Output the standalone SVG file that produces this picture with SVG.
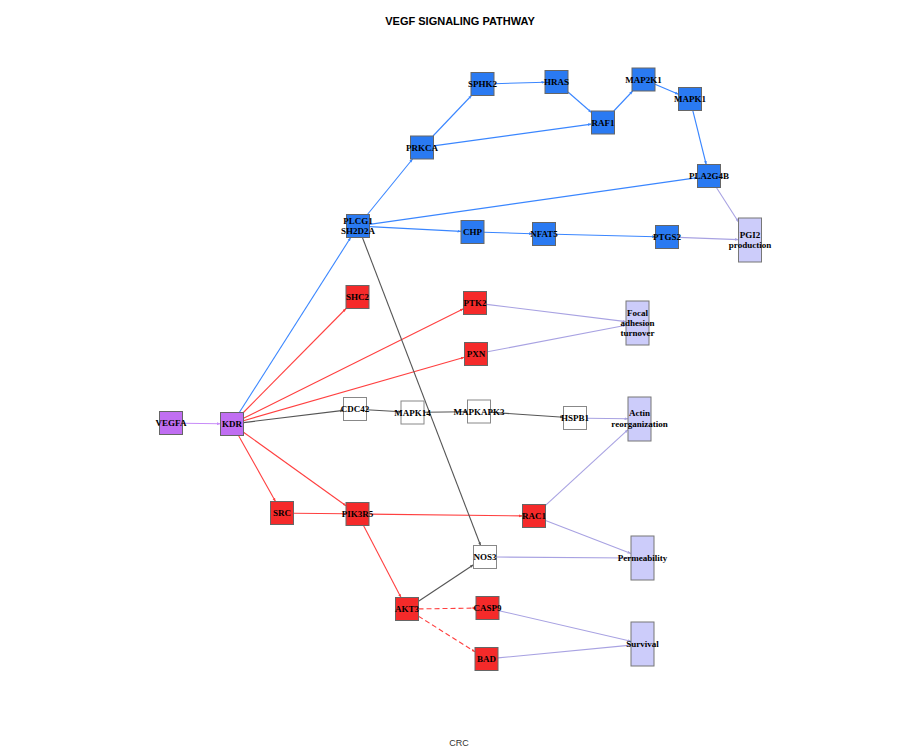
<svg xmlns="http://www.w3.org/2000/svg" width="900" height="750" viewBox="0 0 900 750">
<style>
.n rect{stroke:#666;stroke-width:1}
.b rect{fill:#2a7af2}
.r rect{fill:#f52a2a}
.p rect{fill:#c06ef2}
.w rect{fill:#ffffff;stroke:#888}
.l rect{fill:#ccccfa;stroke:#777}
.n text{font-family:"Liberation Serif",serif;font-weight:bold;font-size:9px;fill:#000;text-anchor:middle}
.e line{fill:none;stroke-width:1.1}
.eb{stroke:#3a86ff}
.er{stroke:#ff4040}
.eg{stroke:#555}
.el{stroke:#a8a2e2}
.ep{stroke:#c88cf8}
.dash{stroke-dasharray:5,3}
.title{font-family:"Liberation Sans",sans-serif;font-weight:bold;font-size:11px;text-anchor:middle;fill:#000}
.sub{font-family:"Liberation Sans",sans-serif;font-size:9px;text-anchor:middle;fill:#333}
</style>
<defs>
<marker id="ab" viewBox="0 0 10 10" refX="10" refY="5" markerWidth="3.5" markerHeight="3.5" orient="auto" markerUnits="userSpaceOnUse"><path d="M0,1 L10,5 L0,9 z" fill="#3a86ff"/></marker>
<marker id="ar" viewBox="0 0 10 10" refX="10" refY="5" markerWidth="3.5" markerHeight="3.5" orient="auto" markerUnits="userSpaceOnUse"><path d="M0,1 L10,5 L0,9 z" fill="#ff4040"/></marker>
<marker id="ag" viewBox="0 0 10 10" refX="10" refY="5" markerWidth="3.5" markerHeight="3.5" orient="auto" markerUnits="userSpaceOnUse"><path d="M0,1 L10,5 L0,9 z" fill="#555"/></marker>
<marker id="al" viewBox="0 0 10 10" refX="10" refY="5" markerWidth="3.5" markerHeight="3.5" orient="auto" markerUnits="userSpaceOnUse"><path d="M0,1 L10,5 L0,9 z" fill="#a8a2e2"/></marker>
<marker id="ap" viewBox="0 0 10 10" refX="10" refY="5" markerWidth="3.5" markerHeight="3.5" orient="auto" markerUnits="userSpaceOnUse"><path d="M0,1 L10,5 L0,9 z" fill="#c88cf8"/></marker>
</defs>
<rect x="0" y="0" width="900" height="750" fill="#ffffff"/>
<text class="title" x="460" y="25">VEGF SIGNALING PATHWAY</text>
<text class="sub" x="459" y="746">CRC</text>

<g id="connectors" class="e">
<line class="ep" x1="182.5" y1="423.2" x2="220.5" y2="423.8" marker-end="url(#ap)"/>
<line class="eb" x1="239.3" y1="412.5" x2="350.7" y2="237.5" marker-end="url(#ab)"/>
<line class="eb" x1="367.4" y1="214.5" x2="412.6" y2="159" marker-end="url(#ab)"/>
<line class="eb" x1="433" y1="136" x2="471.5" y2="95.5" marker-end="url(#ab)"/>
<line class="eb" x1="494" y1="83.7" x2="545" y2="82.3" marker-end="url(#ab)"/>
<line class="eb" x1="568" y1="92" x2="591.5" y2="112.5" marker-end="url(#ab)"/>
<line class="eb" x1="433.5" y1="145.9" x2="591.5" y2="124.1" marker-end="url(#ab)"/>
<line class="eb" x1="613.8" y1="111" x2="632.7" y2="91" marker-end="url(#ab)"/>
<line class="eb" x1="655" y1="84.3" x2="678.5" y2="94.2" marker-end="url(#ab)"/>
<line class="eb" x1="692.8" y1="110.5" x2="706.2" y2="164.5" marker-end="url(#ab)"/>
<line class="eb" x1="369.5" y1="224.4" x2="697.5" y2="177.6" marker-end="url(#ab)"/>
<line class="eb" x1="369.5" y1="226.6" x2="461" y2="231.4" marker-end="url(#ab)"/>
<line class="eb" x1="484" y1="232.3" x2="532.5" y2="233.7" marker-end="url(#ab)"/>
<line class="eb" x1="555.5" y1="234.3" x2="655.5" y2="236.7" marker-end="url(#ab)"/>
<line class="el" x1="716.4" y1="187.5" x2="738.5" y2="222" marker-end="url(#al)"/>
<line class="el" x1="678.5" y1="237.4" x2="738.5" y2="239.6" marker-end="url(#al)"/>
<line class="er" x1="243.4" y1="412.5" x2="346.1" y2="308.5" marker-end="url(#ar)"/>
<line class="er" x1="243.5" y1="418.3" x2="463.5" y2="308.7" marker-end="url(#ar)"/>
<line class="er" x1="243.5" y1="420.7" x2="464.5" y2="357.3" marker-end="url(#ar)"/>
<line class="eg" x1="243.5" y1="422.6" x2="343.5" y2="410.4" marker-end="url(#ag)"/>
<line class="eg" x1="366.5" y1="409.7" x2="401" y2="411.8" marker-end="url(#ag)"/>
<line class="eg" x1="424" y1="412.3" x2="467.5" y2="411.7" marker-end="url(#ag)"/>
<line class="eg" x1="490.5" y1="412.3" x2="563.5" y2="417.2" marker-end="url(#ag)"/>
<line class="el" x1="586.5" y1="418.2" x2="628" y2="418.8" marker-end="url(#al)"/>
<line class="el" x1="486.5" y1="304.4" x2="626" y2="321.6" marker-end="url(#al)"/>
<line class="el" x1="487.5" y1="351.8" x2="626" y2="325.2" marker-end="url(#al)"/>
<line class="er" x1="238.5" y1="435.5" x2="275.5" y2="501.5" marker-end="url(#ar)"/>
<line class="er" x1="243.5" y1="432.2" x2="346" y2="505.8" marker-end="url(#ar)"/>
<line class="er" x1="293.5" y1="513.2" x2="346" y2="513.8" marker-end="url(#ar)"/>
<line class="er" x1="369" y1="514.1" x2="522.5" y2="515.9" marker-end="url(#ar)"/>
<line class="er" x1="363.5" y1="525.5" x2="401" y2="597.5" marker-end="url(#ar)"/>
<line class="eg" x1="418.5" y1="601.3" x2="473.5" y2="564.7" marker-end="url(#ag)"/>
<line class="eg" x1="362.4" y1="237.5" x2="480.6" y2="545.5" marker-end="url(#ag)"/>
<line class="er dash" x1="418.5" y1="608.9" x2="476" y2="608.1" marker-end="url(#ar)"/>
<line class="er dash" x1="418.5" y1="616.2" x2="475" y2="651.8" marker-end="url(#ar)"/>
<line class="el" x1="545.5" y1="505.4" x2="628" y2="429.6" marker-end="url(#al)"/>
<line class="el" x1="545.5" y1="520.5" x2="631" y2="553.5" marker-end="url(#al)"/>
<line class="el" x1="496.5" y1="557" x2="631" y2="558" marker-end="url(#al)"/>
<line class="el" x1="499" y1="610.7" x2="631" y2="641.3" marker-end="url(#al)"/>
<line class="el" x1="498" y1="657.9" x2="631" y2="645.1" marker-end="url(#al)"/>
</g>

<g id="VEGFA" class="n p"><rect x="159.5" y="411.5" width="23" height="23"/><text x="171" y="426">VEGFA</text></g>
<g id="KDR" class="n p"><rect x="220.5" y="412.5" width="23" height="23"/><text x="232" y="427">KDR</text></g>
<g id="PLCG1" class="n b"><rect x="346.5" y="214.5" width="23" height="23"/><text x="358" y="224">PLCG1</text><text x="358" y="234">SH2D2A</text></g>
<g id="PRKCA" class="n b"><rect x="410.5" y="136" width="23" height="23"/><text x="422" y="150.5">PRKCA</text></g>
<g id="SPHK2" class="n b"><rect x="471" y="72.5" width="23" height="23"/><text x="482.5" y="87">SPHK2</text></g>
<g id="HRAS" class="n b"><rect x="545" y="70.5" width="23" height="23"/><text x="556.5" y="85">HRAS</text></g>
<g id="RAF1" class="n b"><rect x="591.5" y="111" width="23" height="23"/><text x="603" y="125.5">RAF1</text></g>
<g id="MAP2K1" class="n b"><rect x="632" y="68" width="23" height="23"/><text x="643.5" y="82.5">MAP2K1</text></g>
<g id="MAPK1" class="n b"><rect x="678.5" y="87.5" width="23" height="23"/><text x="690" y="102">MAPK1</text></g>
<g id="PLA2G4B" class="n b"><rect x="697.5" y="164.5" width="23" height="23"/><text x="709" y="179">PLA2G4B</text></g>
<g id="CHP" class="n b"><rect x="461" y="220.5" width="23" height="23"/><text x="472.5" y="235">CHP</text></g>
<g id="NFAT5" class="n b"><rect x="532.5" y="222.5" width="23" height="23"/><text x="544" y="237">NFAT5</text></g>
<g id="PTGS2" class="n b"><rect x="655.5" y="225.5" width="23" height="23"/><text x="667" y="240">PTGS2</text></g>
<g id="PGI2" class="n l"><rect x="738.5" y="218" width="23" height="44"/><text x="750" y="238">PGI2</text><text x="750" y="248">production</text></g>
<g id="SHC2" class="n r"><rect x="346" y="285.5" width="23" height="23"/><text x="357.5" y="300">SHC2</text></g>
<g id="PTK2" class="n r"><rect x="463.5" y="291.5" width="23" height="23"/><text x="475" y="306">PTK2</text></g>
<g id="PXN" class="n r"><rect x="464.5" y="342.5" width="23" height="23"/><text x="476" y="357">PXN</text></g>
<g id="FocalAdhesion" class="n l"><rect x="626" y="301" width="23" height="44"/><text x="637.5" y="316">Focal</text><text x="637.5" y="326">adhesion</text><text x="637.5" y="336">turnover</text></g>
<g id="CDC42" class="n w"><rect x="343.5" y="397.5" width="23" height="23"/><text x="355" y="412">CDC42</text></g>
<g id="MAPK14" class="n w"><rect x="401" y="401" width="23" height="23"/><text x="412.5" y="415.5">MAPK14</text></g>
<g id="MAPKAPK3" class="n w"><rect x="467.5" y="400" width="23" height="23"/><text x="479" y="414.5">MAPKAPK3</text></g>
<g id="HSPB1" class="n w"><rect x="563.5" y="406.5" width="23" height="23"/><text x="575" y="421">HSPB1</text></g>
<g id="Actin" class="n l"><rect x="628" y="397" width="23" height="44"/><text x="639.5" y="416">Actin</text><text x="639.5" y="427">reorganization</text></g>
<g id="SRC" class="n r"><rect x="270.5" y="501.5" width="23" height="23"/><text x="282" y="516">SRC</text></g>
<g id="PIK3R5" class="n r"><rect x="346" y="502.5" width="23" height="23"/><text x="357.5" y="517">PIK3R5</text></g>
<g id="RAC1" class="n r"><rect x="522.5" y="504.5" width="23" height="23"/><text x="534" y="519">RAC1</text></g>
<g id="NOS3" class="n w"><rect x="473.5" y="545.5" width="23" height="23"/><text x="485" y="560">NOS3</text></g>
<g id="AKT3" class="n r"><rect x="395.5" y="597.5" width="23" height="23"/><text x="407" y="612">AKT3</text></g>
<g id="CASP9" class="n r"><rect x="476" y="596.5" width="23" height="23"/><text x="487.5" y="611">CASP9</text></g>
<g id="BAD" class="n r"><rect x="475" y="647.5" width="23" height="23"/><text x="486.5" y="662">BAD</text></g>
<g id="Permeability" class="n l"><rect x="631" y="536" width="23" height="44"/><text x="642.5" y="561">Permeability</text></g>
<g id="Survival" class="n l"><rect x="631" y="622" width="23" height="44"/><text x="642.5" y="647">Survival</text></g>
</svg>
